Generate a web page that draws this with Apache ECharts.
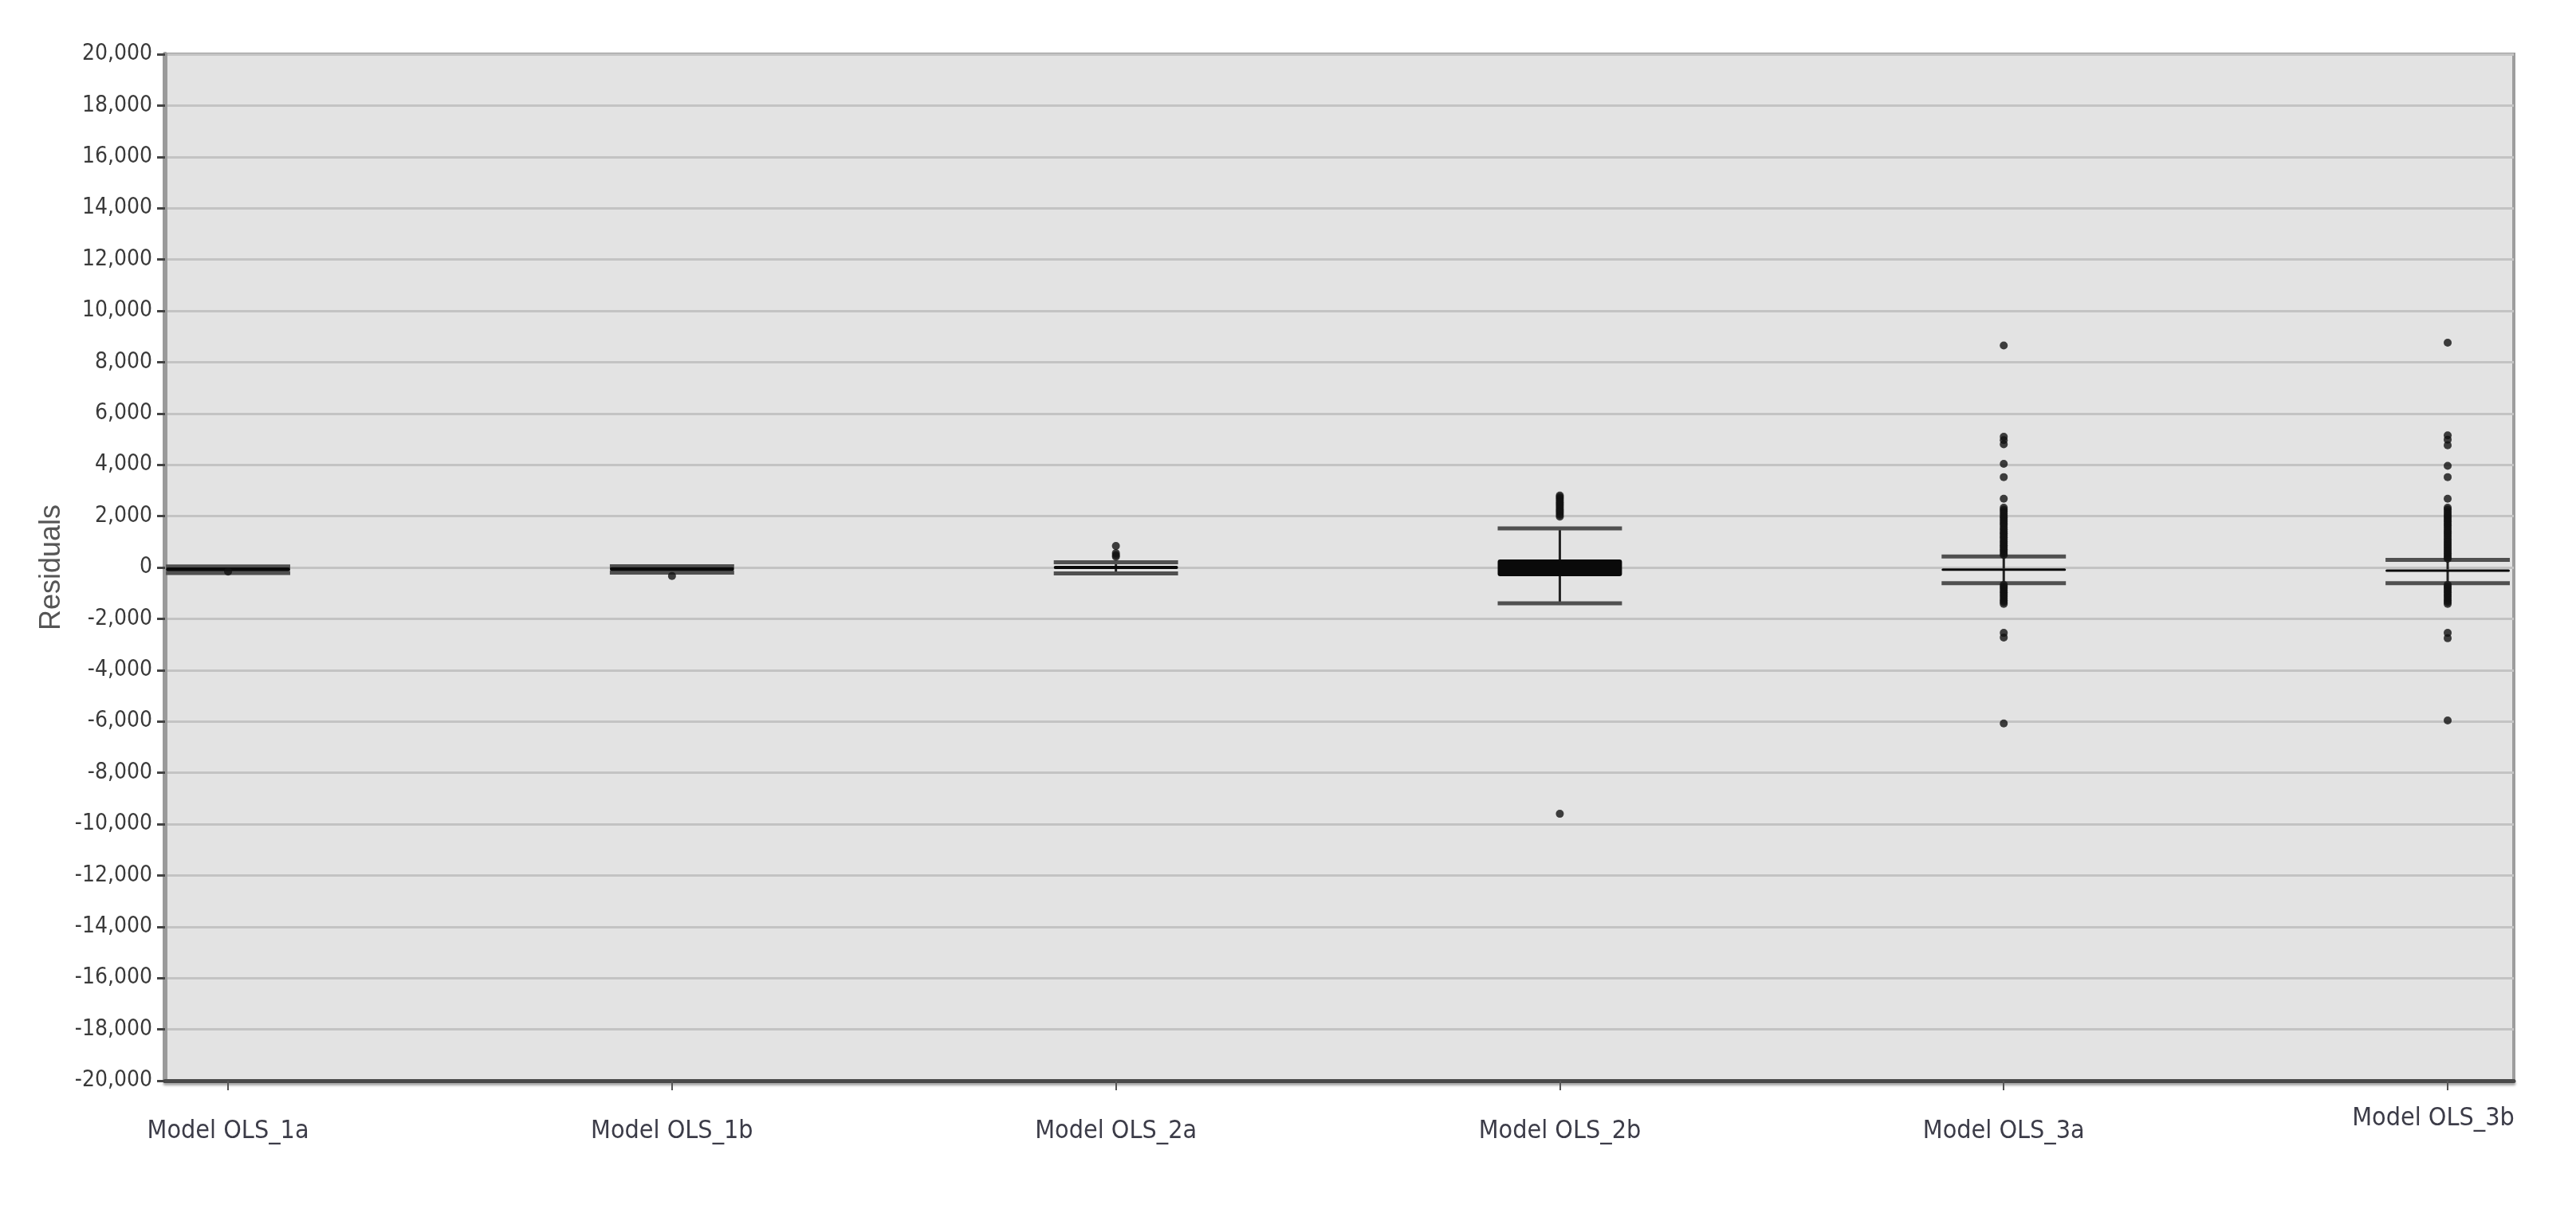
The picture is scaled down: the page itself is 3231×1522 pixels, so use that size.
<!DOCTYPE html>
<html>
<head>
<meta charset="utf-8">
<style>
  html, body { margin: 0; padding: 0; background: #ffffff; }
  #chart { width: 3231px; height: 1522px; }
</style>
<script src="https://cdn.jsdelivr.net/npm/echarts@6/dist/echarts.min.js"></script>
</head>
<body>
<div id="chart"></div>
<script>
const categories = ['Model OLS_1a', 'Model OLS_1b', 'Model OLS_2a', 'Model OLS_2b', 'Model OLS_3a', 'Model OLS_3b'];

// box statistics per model (residuals)
const whiskerLow  = [-220, -200, -230, -1400, -615, -615];
const boxQ1       = [-150, -130,  -60,  -340, -120, -150];
const boxMedian   = [ -70,  -60,    0,   -20,  -80, -115];
const boxQ3       = [   0,   10,   60,   310,  -40,  -80];
const whiskerHigh = [  40,   50,  200,  1520,  430,  295];

// outlying residuals per model
const outliers1a = [-160];
const outliers1b = [-330];
const outliers2a = [840, 560, 480, 420];
const outliers2b = [2800, 2740, 2680, 2610, 2540, 2470, 2400, 2330, 2260, 2190, 2120, 2050, 1980, -9600];
const outliers3a = [8650, 5090, 4960, 4800, 4040, 3520, 2680, 2330, 2250, 2180, 2100, 2020, 1950, 1870, 1800,
  1720, 1650, 1560, 1480, 1400, 1330, 1250, 1170, 1090, 1010, 940, 860, 790, 710, 640, 560, 490,
  -680, -750, -820, -900, -970, -1050, -1120, -1200, -1280, -1350, -1420, -2550, -2730, -6080];
const outliers3b = [8760, 5150, 4980, 4760, 3960, 3520, 2680, 2330, 2260, 2170, 2090, 2010, 1940, 1860, 1790,
  1710, 1640, 1550, 1470, 1390, 1320, 1240, 1160, 1080, 1000, 930, 850, 780, 700, 630, 550, 480, 400, 340,
  -680, -750, -820, -900, -970, -1050, -1120, -1200, -1280, -1350, -1420, -2550, -2760, -5960];

const yTickMin = -20000;
const yTickMax = 20000;
const yTickStep = 2000;

const boxData = categories.map((c, i) => [i, whiskerLow[i], boxQ1[i], boxMedian[i], boxQ3[i], whiskerHigh[i]]);
const outlierData = [];
[outliers1a, outliers1b, outliers2a, outliers2b, outliers3a, outliers3b].forEach((list, i) => {
  list.forEach(v => outlierData.push([i, v]));
});

const boxHalf = 0.14;

function renderBox(params, api) {
  const x = api.value(0);
  const low = api.coord([x, api.value(1)]);
  const q1 = api.coord([x, api.value(2)]);
  const q3 = api.coord([x, api.value(4)]);
  const high = api.coord([x, api.value(5)]);
  const cx = low[0];
  const half = api.coord([x + boxHalf, 0])[0] - cx;
  const capStyle = { stroke: '#505050', lineWidth: 5 };
  const stemStyle = { stroke: '#222222', lineWidth: 3 };
  return {
    type: 'group',
    children: [
      { type: 'line', shape: { x1: cx, y1: high[1], x2: cx, y2: q3[1] }, style: stemStyle },
      { type: 'line', shape: { x1: cx, y1: q1[1], x2: cx, y2: low[1] }, style: stemStyle },
      { type: 'line', shape: { x1: cx - half, y1: high[1], x2: cx + half, y2: high[1] }, style: capStyle },
      { type: 'line', shape: { x1: cx - half, y1: low[1], x2: cx + half, y2: low[1] }, style: capStyle },
      {
        type: 'rect',
        shape: { x: cx - half, y: q3[1], width: half * 2, height: Math.max(q1[1] - q3[1], 3), r: 3 },
        style: { fill: '#0a0a0a' }
      }
    ]
  };
}

let chart = echarts.init(document.getElementById('chart'), null, { renderer: 'canvas' });
let option;

option = {
  backgroundColor: '#ffffff',
  animation: false,
  grid: {
    left: 207,
    right: 78,
    top: 68,
    bottom: 166,
    show: true,
    backgroundColor: '#e3e3e3',
    borderColor: '#9d9d9d',
    borderWidth: 4
  },
  xAxis: {
    type: 'value',
    min: -0.142,
    max: 5.149,
    splitLine: { show: false },
    axisLine: { show: true, onZero: false, lineStyle: { color: '#4a4a4a', width: 5, shadowColor: 'rgba(0,0,0,0.35)', shadowOffsetY: 3, shadowBlur: 3 } },
    axisTick: { show: true, customValues: [0, 1, 2, 3, 4, 5], length: 12, lineStyle: { color: '#555555', width: 2 } },
    axisLabel: {
      customValues: [0, 1, 2, 3, 4, 5],
      margin: 20,
      color: '#3c3c48',
      fontFamily: '"Liberation Sans Narrow", "Arial Narrow", "DejaVu Sans Condensed", sans-serif',
      fontSize: 32,
      formatter: function (v) {
        const i = Math.round(v);
        return i === 5 ? '{last|' + categories[i] + '}' : '{n|' + categories[i] + '}';
      },
      rich: {
        n: { padding: [28, 0, 0, 0] },
        last: { padding: [12, 36, 0, 0] }
      }
    }
  },
  yAxis: {
    type: 'value',
    min: yTickMin,
    max: yTickMax,
    interval: yTickStep,
    name: 'Residuals',
    nameLocation: 'middle',
    nameGap: 106,
    nameTextStyle: {
      color: '#555555',
      fontFamily: '"Liberation Sans", Arial, sans-serif',
      fontSize: 36
    },
    axisLine: { show: true, onZero: false, lineStyle: { color: '#9a9a9a', width: 6 } },
    axisTick: { show: true, length: 10, lineStyle: { color: '#444444', width: 3 } },
    splitLine: { show: true, lineStyle: { color: '#c3c3c3', width: 3 } },
    axisLabel: {
      margin: 16,
      color: '#3a3a3a',
      fontFamily: '"Liberation Sans Narrow", "Arial Narrow", "DejaVu Sans Condensed", sans-serif',
      fontSize: 28,
      formatter: function (v) {
        return v.toLocaleString('en-US');
      }
    }
  },
  series: [
    {
      type: 'custom',
      name: 'box',
      renderItem: renderBox,
      clip: true,
      encode: { x: 0, y: [1, 2, 3, 4, 5] },
      data: boxData,
      z: 2
    },
    {
      type: 'scatter',
      name: 'outliers',
      symbol: 'circle',
      symbolSize: 10,
      itemStyle: { color: '#111111' },
      data: outlierData,
      z: 3
    }
  ]
};

chart.setOption(option);
window.addEventListener('resize', function () {
  chart.resize();
});
</script>
</body>
</html>
